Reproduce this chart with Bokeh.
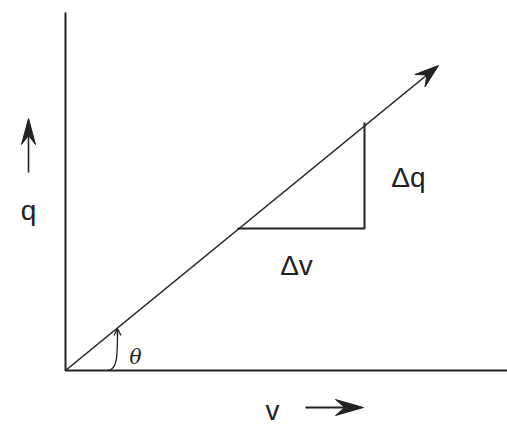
import numpy as np
from bokeh.plotting import figure
from bokeh.models import Range1d, Arrow, OpenHead, ColumnDataSource
from bokeh.core.properties import value
from bokeh.embed import file_html
from bokeh.resources import INLINE

# ---- data (v, q units; origin at the axes' corner) ----
axis_v = [0, 0, 442]          # L-shaped axes: top of q axis -> origin -> end of v axis
axis_q = [358, 0, 0]
line_v = [0, 373]             # q = k v line with arrow
line_q = [0, 305]
tri_v = [172, 299, 299]       # slope triangle
tri_q = [142, 142, 248]
theta_arc = dict(x0=[42], y0=[0], cx0=[52], cy0=[0], cx1=[52], cy1=[15], x1=[52], y1=[40])
labels = ["q", "Δq", "Δv", "v"]
label_v = [-37, 343, 231, 207]
label_q = [160, 193, 105, -40]
q_arrow_v = [-37, -37]
q_arrow_q = [198, 252]
v_arrow_v = [240, 298]
v_arrow_q = [-37, -37]

ink = "#222222"

p = figure(width=507, height=426, output_backend="svg", toolbar_location=None,
           x_range=Range1d(-65, 442), y_range=Range1d(-56, 370),
           x_axis_location=None, y_axis_location=None, min_border=0)
p.outline_line_color = None
p.xgrid.visible = False
p.ygrid.visible = False
p.background_fill_color = "white"

p.line(axis_v, axis_q, line_color=ink, line_width=2)
p.line(tri_v, tri_q, line_color=ink, line_width=2)


def stealth_arrow(xs, ys, length, half_w, notch, lw):
    """Shaft plus a filled stealth head at the end point (x/y scales are 1:1)."""
    x0, x1 = xs
    y0, y1 = ys
    d = np.array([x1 - x0, y1 - y0], dtype=float)
    d /= np.hypot(*d)
    n = np.array([-d[1], d[0]])
    tip = np.array([x1, y1], dtype=float)
    back = tip - length * d
    pts = [tip, back + half_w * n, tip - notch * d, back - half_w * n]
    p.line([x0, (tip - notch * d)[0]], [y0, (tip - notch * d)[1]],
           line_color=ink, line_width=lw)
    p.patch([q[0] for q in pts], [q[1] for q in pts],
            fill_color=ink, line_color=ink, line_width=1)


stealth_arrow(line_v, line_q, 24, 8, 15, 1.6)
stealth_arrow(q_arrow_v, q_arrow_q, 26, 7, 17, 1.6)
stealth_arrow(v_arrow_v, v_arrow_q, 28, 8, 19, 1.8)

p.bezier(source=ColumnDataSource(theta_arc), x0="x0", y0="y0", x1="x1", y1="y1",
         cx0="cx0", cy0="cy0", cx1="cx1", cy1="cy1", line_color=ink, line_width=1.3)
p.add_layout(Arrow(x_start=theta_arc["x1"][0], y_start=theta_arc["y1"][0] - 5,
                   x_end=theta_arc["x1"][0], y_end=theta_arc["y1"][0] + 2,
                   line_color=ink, line_width=1.3,
                   end=OpenHead(size=7, line_color=ink, line_width=1.3)))

p.text(x=label_v, y=label_q, text=labels, text_align="center", text_baseline="middle",
       text_font=value("Liberation Sans"), text_font_size="28px", text_color=ink)
p.text(x=[70], y=[14], text=["θ"], text_align="center", text_baseline="middle",
       text_font=value("DejaVu Serif"), text_font_style="italic",
       text_font_size="20px", text_color=ink)

open("out.html", "w").write(file_html(p, INLINE))
